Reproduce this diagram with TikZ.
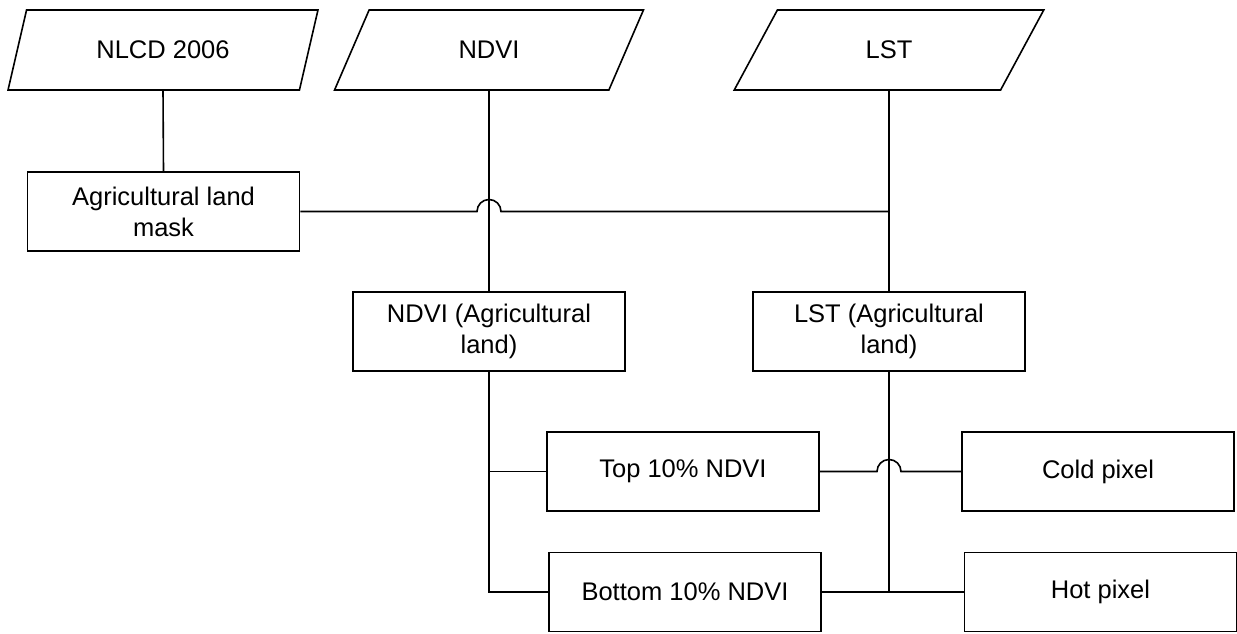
\documentclass[tikz,border=0pt]{standalone}
\usepackage{fontspec}
\setmainfont{Liberation Sans}
\usetikzlibrary{calc,shapes.geometric}
\tikzset{>=stealth}
\tikzset{box/.style={draw,line width=1.6,minimum width=272,minimum height=79,
                     inner sep=0,align=center,font=\fontsize{25.5}{31}\selectfont},
         data/.style={trapezium,trapezium left angle=63.4,trapezium right angle=116.6,
                      trapezium stretches=true,draw,line width=1.6,minimum width=310,
                      minimum height=80,inner sep=0,font=\fontsize{25.5}{31}\selectfont},
         link/.style={line width=1.6}}

\begin{document}
\begin{tikzpicture}[x=1pt,y=-1pt]
\useasboundingbox (0,0) rectangle (1237,633);
\node[data] (nlcd) at (163,50) {NLCD 2006};
\node[data] (ndvi) at (489,50) {NDVI};
\node[data] (lst) at (889,50) {LST};
\node[box] (mask) at (163.5,211.5) {Agricultural land\\mask};
\node[box] (ndviag) at (489,331.5) {NDVI (Agricultural\\land)};
\node[box] (lstag) at (889,331.5) {LST (Agricultural\\land)};
\node[box] (top) at (683,471.5) {Top 10\% NDVI};
\node[box] (cold) at (1098,471.5) {Cold pixel};
\node[box] (bottom) at (685,592) {Bottom 10\% NDVI};
\node[box] (hot) at (1100.5,592) {Hot pixel};
\draw[link] (nlcd.south) -- (mask.north);
\draw[link] (ndvi.south) -- (ndviag.north);
\draw[link] (lst.south) -- (lstag.north);
\draw[link] (mask.east) -- ($(ndvi.south |- mask.east)+(-12,0)$)
    arc[start angle=180,end angle=360,radius=12] -- (lst.south |- mask.east);
\draw[link] (ndviag.south) |- (bottom.west);
\draw[link] (ndviag.south |- top.west) -- (top.west);
\draw[link] (lstag.south) |- (hot.west);
\draw[link] (bottom.east) -- (lstag.south |- bottom.east);
\draw[link] (top.east) -- ($(lstag.south |- top.east)+(-12,0)$)
    arc[start angle=180,end angle=360,radius=12] -- (cold.west);
\end{tikzpicture}
\end{document}
